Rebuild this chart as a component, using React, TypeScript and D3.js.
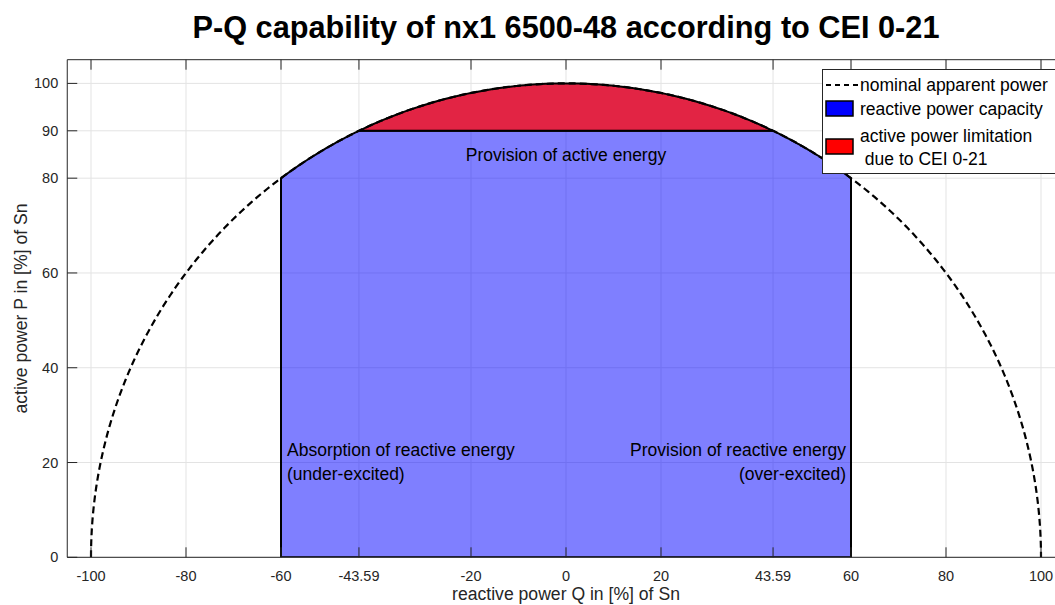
import React from "react";
import * as d3 from "d3";

const xTicks = [-100, -80, -60, -43.59, -20, 0, 20, 43.59, 60, 80, 100];
const yTicks = [0, 20, 40, 60, 80, 90, 100];
const nominalApparentPower = 100; // radius of circle in %
const reactiveLimit = 60; // |Q| limit in %
const activeLimit = 90; // P limit in %
const legendLabels = ["nominal apparent power", "reactive power capacity", "active power limitation", " due to CEI 0-21"];

const W = 1055, H = 605;
const FONT = "'Liberation Sans', Arial, Helvetica, sans-serif";

export default function App() {
  const x = d3.scaleLinear().domain([-105, 105]).range([67.25, 1064.75]);
  const y = d3.scaleLinear().domain([0, 105]).range([557.3, 59.7]);
  const R = nominalApparentPower;
  const line = d3.line<[number, number]>().x(d => x(d[0])).y(d => y(d[1]));

  const circlePts: [number, number][] = d3.range(0, 180.001, 0.5).map(a => {
    const t = (a * Math.PI) / 180;
    return [-R * Math.cos(t), R * Math.sin(t)];
  });

  const qAt90 = Math.sqrt(R * R - activeLimit * activeLimit);
  const pAt60 = Math.sqrt(R * R - reactiveLimit * reactiveLimit);
  const arc = (q0: number, q1: number): [number, number][] =>
    d3.range(0, 1.0001, 0.01).map(f => {
      const q = q0 + (q1 - q0) * f;
      return [q, Math.sqrt(Math.max(0, R * R - q * q))];
    });

  const bluePts: [number, number][] = [
    [-reactiveLimit, 0],
    [-reactiveLimit, pAt60],
    ...arc(-reactiveLimit, -qAt90),
    [qAt90, activeLimit],
    ...arc(qAt90, reactiveLimit),
    [reactiveLimit, 0],
  ];
  const redPts: [number, number][] = [...arc(-qAt90, qAt90), [-qAt90, activeLimit]];

  const x0 = x(-105), x1 = x(105), yb = y(0), yt = y(105);
  const axisColor = "#262626";

  return (
    <svg width={W} height={H} style={{ position: "absolute", left: 0, top: 0, background: "#fff" }} fontFamily={FONT}>
      <defs>
        <clipPath id="plot">
          <rect x={x0} y={yt} width={x1 - x0} height={yb - yt} />
        </clipPath>
      </defs>
      <rect x={0} y={0} width={W} height={H} fill="#fff" />
      {/* grid */}
      <g stroke="#e3e3e3" strokeWidth={1}>
        {xTicks.map(t => (
          <line key={"gx" + t} x1={x(t)} x2={x(t)} y1={yb} y2={yt} />
        ))}
        {yTicks.map(t => (
          <line key={"gy" + t} x1={x0} x2={x1} y1={y(t)} y2={y(t)} />
        ))}
      </g>
      <g clipPath="url(#plot)">
        <path d={line(bluePts) + "Z"} fill="#0000ff" fillOpacity={0.5} stroke="#000" strokeWidth={2} strokeLinejoin="round" />
        <path d={line(redPts) + "Z"} fill="#e0183a" fillOpacity={0.95} stroke="#000" strokeWidth={2} strokeLinejoin="round" />
        <path d={line(circlePts) || ""} fill="none" stroke="#000" strokeWidth={2.2} strokeDasharray="7,4" />
      </g>
      {/* axes box */}
      <g stroke={axisColor} strokeWidth={1} fill="none">
        <line x1={x0} x2={x1} y1={yb} y2={yb} />
        <line x1={x0} x2={x1} y1={yt} y2={yt} />
        <line x1={x0} x2={x0} y1={yb} y2={yt} />
        {xTicks.map(t => (
          <g key={"tx" + t}>
            <line x1={x(t)} x2={x(t)} y1={yb} y2={yb - 10} />
            <line x1={x(t)} x2={x(t)} y1={yt} y2={yt + 10} />
          </g>
        ))}
        {yTicks.map(t => (
          <line key={"ty" + t} x1={x0} x2={x0 + 10} y1={y(t)} y2={y(t)} />
        ))}
      </g>
      <g fill={axisColor} fontSize={14.5}>
        {xTicks.map(t => (
          <text key={"lx" + t} x={x(t)} y={581} textAnchor="middle">{String(t)}</text>
        ))}
        {yTicks.map(t => (
          <text key={"ly" + t} x={x0 - 9} y={y(t) + 5} textAnchor="end">{String(t)}</text>
        ))}
      </g>
      <text x={566} y={600} textAnchor="middle" fontSize={17.6} fill={axisColor}>reactive power Q in [%] of Sn</text>
      <text transform={`translate(27,${(yb + yt) / 2}) rotate(-90)`} textAnchor="middle" fontSize={17.6} fill={axisColor}>active power P in [%] of Sn</text>
      <text x={566} y={38} textAnchor="middle" fontSize={30.7} fontWeight="bold" fill="#000">P-Q capability of nx1 6500-48 according to CEI 0-21</text>

      {/* annotations */}
      <g fontSize={17.5} fill="#000">
        <text x={x(0)} y={161} textAnchor="middle">Provision of active energy</text>
        <text x={x(-reactiveLimit) + 6} y={456}>Absorption of reactive energy</text>
        <text x={x(-reactiveLimit) + 6} y={480}>(under-excited)</text>
        <text x={x(reactiveLimit) - 5} y={456} textAnchor="end">Provision of reactive energy</text>
        <text x={x(reactiveLimit) - 5} y={480} textAnchor="end">(over-excited)</text>
      </g>

      {/* legend */}
      <g>
        <rect x={822.5} y={69.5} width={260} height={104} fill="#fff" stroke={axisColor} strokeWidth={1} />
        <line x1={826} x2={858} y1={85} y2={85} stroke="#000" strokeWidth={2} strokeDasharray="5,4" />
        <rect x={826} y={101} width={27} height={15} fill="#0000ff" stroke="#000" strokeWidth={1.5} />
        <rect x={826} y={139} width={27} height={15} fill="#ff0000" stroke="#000" strokeWidth={1.5} />
        <g fontSize={17.5} fill="#000">
          <text x={860} y={91}>{legendLabels[0]}</text>
          <text x={860} y={115}>{legendLabels[1]}</text>
          <text x={860} y={142}>{legendLabels[2]}</text>
          <text x={860} y={165} style={{ whiteSpace: "pre" }}>{legendLabels[3]}</text>
        </g>
      </g>
    </svg>
  );
}
